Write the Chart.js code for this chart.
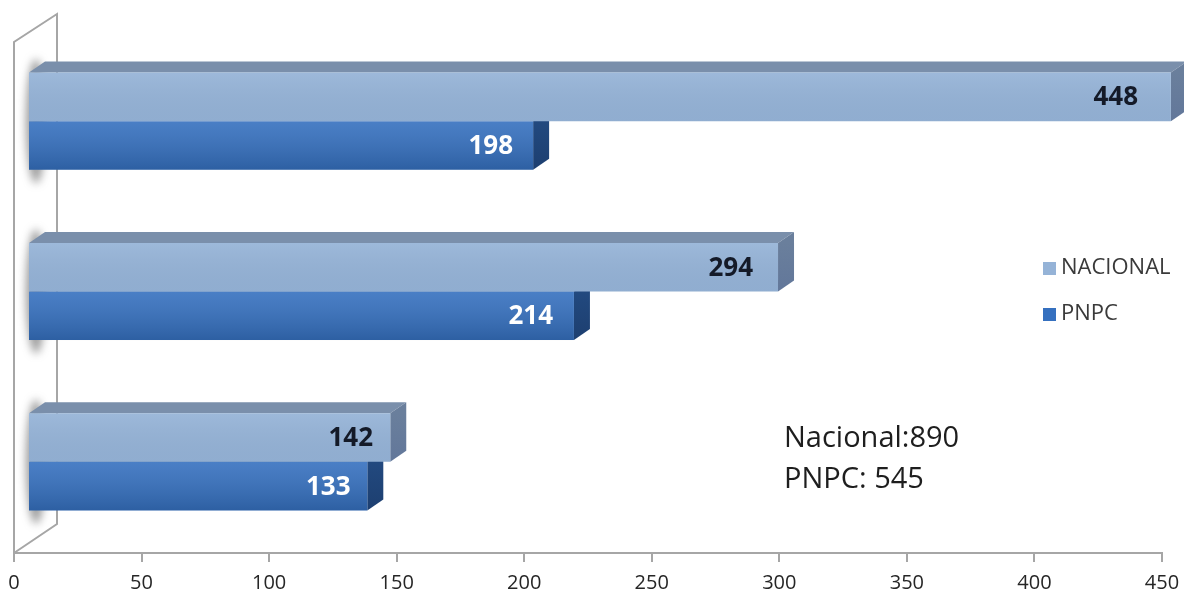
<!DOCTYPE html>
<html>
<head>
<meta charset="utf-8">
<script src="https://cdn.jsdelivr.net/npm/chart.js@4.4.1/dist/chart.umd.min.js"></script>
<style>
  html, body { margin: 0; padding: 0; background: #ffffff; }
  #wrap { width: 1184px; height: 599px; position: relative; }
</style>
</head>
<body>
<div id="wrap"><canvas id="c" width="1184" height="599"></canvas></div>
<script>
// ---- data ----
const categories = ['Grupo 1', 'Grupo 2', 'Grupo 3'];
const nacional = [448, 294, 142];
const pnpc = [198, 214, 133];
const seriesNames = ['NACIONAL', 'PNPC'];
const xMin = 0;
const xMax = 450;
const xStep = 50;
const noteLines = ['Nacional:890', 'PNPC: 545'];

// ---- styling ----
const FRONT = ['#95b3d7', '#3570bf'];
const TOPF = ['#7a8fab', '#2c5a99'];
const SIDE = ['#6a7f9c', '#22497f'];
const LABEL_COL = ['#141a28', '#ffffff'];
const DEPTH = { x: 16, y: -11 };
const SHIFT = { x: 14, y: -6 };

const threeD = {
  id: 'threeD',
  beforeDatasetsDraw(chart) {
    const ctx = chart.ctx;
    const a = chart.chartArea;
    ctx.save();
    // back wall
    ctx.strokeStyle = '#a6a6a6';
    ctx.lineWidth = 2;
    ctx.beginPath();
    ctx.moveTo(a.left, a.bottom);
    ctx.lineTo(a.left, a.top);
    ctx.lineTo(a.left + 43, a.top - 28);
    ctx.lineTo(a.left + 43, a.bottom - 29);
    ctx.lineTo(a.left, a.bottom);
    ctx.stroke();
    // shadows on wall
    const ys = chart.scales.y;
    ctx.save();
    ctx.filter = 'blur(4px)';
    ctx.fillStyle = 'rgba(90,90,90,0.6)';
    categories.forEach((c, i) => {
      const cy = ys.getPixelForValue(i) + SHIFT.y;
      ctx.beginPath();
      ctx.ellipse(a.left + 22, cy, 10, 62, 0, 0, Math.PI * 2);
      ctx.fill();
    });
    ctx.restore();
    // translate to front plane
    ctx.translate(SHIFT.x, SHIFT.y);
    [1, 0].forEach(di => {
      const meta = chart.getDatasetMeta(di);
      meta.data.forEach(el => {
        const top = el.y - el.height / 2;
        const bot = el.y + el.height / 2;
        const x0 = el.base, x1 = el.x;
        // top face
        ctx.fillStyle = TOPF[di];
        ctx.beginPath();
        ctx.moveTo(x0, top);
        ctx.lineTo(x1, top);
        ctx.lineTo(x1 + DEPTH.x, top + DEPTH.y);
        ctx.lineTo(x0 + DEPTH.x, top + DEPTH.y);
        ctx.closePath();
        ctx.fill();
        // side face
        const g = ctx.createLinearGradient(0, top, 0, bot);
        g.addColorStop(0, SIDE[di]);
        g.addColorStop(1, di === 0 ? '#62779a' : '#1d3f70');
        ctx.fillStyle = g;
        ctx.beginPath();
        ctx.moveTo(x1, top);
        ctx.lineTo(x1 + DEPTH.x, top + DEPTH.y);
        ctx.lineTo(x1 + DEPTH.x, bot + DEPTH.y);
        ctx.lineTo(x1, bot);
        ctx.closePath();
        ctx.fill();
      });
    });
  },
  afterDatasetsDraw(chart) {
    const ctx = chart.ctx;
    [0, 1].forEach(di => {
      const meta = chart.getDatasetMeta(di);
      const ds = chart.data.datasets[di];
      meta.data.forEach((el, i) => {
        const top = el.y - el.height / 2;
        const bot = el.y + el.height / 2;
        const x0 = el.base, x1 = el.x;
        // shading overlay
        const g = ctx.createLinearGradient(0, top, 0, bot);
        if (di === 0) {
          g.addColorStop(0, 'rgba(255,255,255,0.08)');
          g.addColorStop(1, 'rgba(0,0,0,0.03)');
        } else {
          g.addColorStop(0, 'rgba(255,255,255,0.10)');
          g.addColorStop(1, 'rgba(0,0,0,0.15)');
        }
        ctx.fillStyle = g;
        ctx.fillRect(x0, top, x1 - x0, bot - top);
        // value label
        const len = x1 - x0;
        const gap = 10 + 0.02 * len;
        ctx.fillStyle = LABEL_COL[di];
        ctx.font = 'bold 26px "Open Sans", sans-serif';
        ctx.textAlign = 'right';
        ctx.textBaseline = 'middle';
        ctx.fillText(String(ds.data[i]), x1 - gap, el.y + 1);
      });
    });
    ctx.restore();
  },
  afterDraw(chart) {
    const ctx = chart.ctx;
    ctx.save();
    // legend
    ctx.font = '22px "Open Sans", sans-serif';
    ctx.textBaseline = 'middle';
    ctx.textAlign = 'left';
    chart.data.datasets.forEach((ds, i) => {
      const y = 268 + i * 46;
      ctx.fillStyle = FRONT[i];
      ctx.fillRect(1043, y - 6, 13, 13);
      ctx.fillStyle = '#3a3a3a';
      ctx.fillText(ds.label, 1061, y);
    });
    // note
    ctx.font = '29px "Open Sans", sans-serif';
    ctx.fillStyle = '#1e1e1e';
    ctx.textBaseline = 'alphabetic';
    noteLines.forEach((t, i) => ctx.fillText(t, 784, 447 + i * 41));
    ctx.restore();
  }
};

new Chart(document.getElementById('c'), {
  type: 'bar',
  data: {
    labels: categories,
    datasets: [
      { label: seriesNames[0], data: nacional, backgroundColor: FRONT[0], borderWidth: 0, clip: false },
      { label: seriesNames[1], data: pnpc, backgroundColor: FRONT[1], borderWidth: 0, clip: false }
    ]
  },
  options: {
    indexAxis: 'y',
    responsive: false,
    animation: false,
    devicePixelRatio: 1,
    layout: { padding: { left: 14, right: 22, top: 42, bottom: -5 } },
    datasets: { bar: { categoryPercentage: 0.57, barPercentage: 1.0 } },
    plugins: { legend: { display: false }, tooltip: { enabled: false } },
    scales: {
      x: {
        min: xMin, max: xMax,
        afterFit(scale) { scale.paddingLeft = 0; scale.paddingRight = 0; },
        ticks: { stepSize: xStep, color: '#262626', font: { family: '"Open Sans", sans-serif', size: 20, lineHeight: 1.0 }, padding: 11 },
        grid: { display: true, drawOnChartArea: false, drawTicks: true, tickLength: 9, color: '#a6a6a6', lineWidth: 2 },
        border: { display: true, color: '#a6a6a6', width: 2 }
      },
      y: { display: false }
    }
  },
  plugins: [threeD]
});
</script>
</body>
</html>
